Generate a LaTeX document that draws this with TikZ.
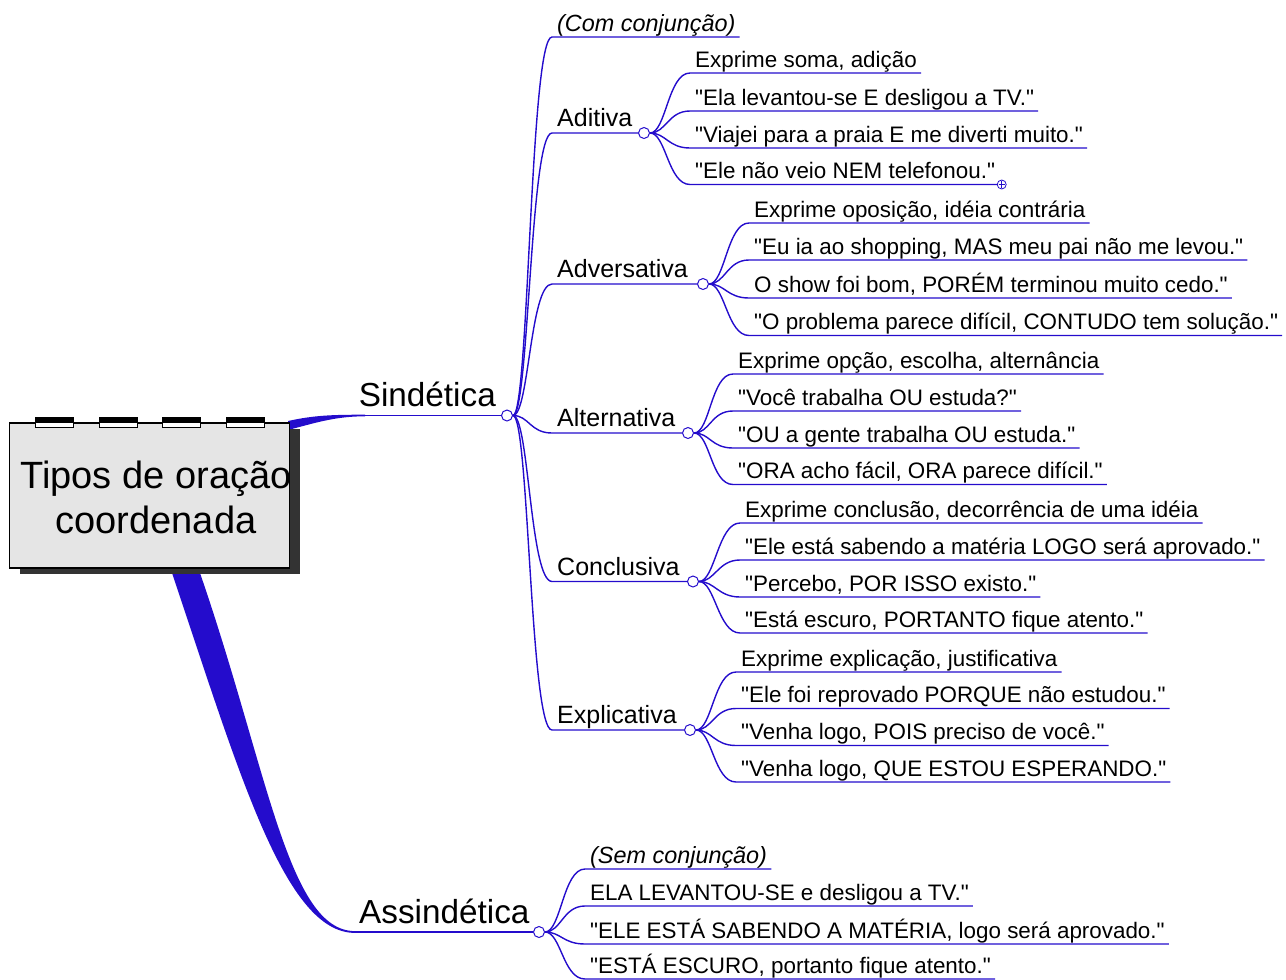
\documentclass[tikz,border=0pt]{standalone}
\usepackage{fontspec}
\setmainfont{Liberation Sans}[Ligatures=TeXOff]
\usetikzlibrary{calc,shadows}

\definecolor{mmblue}{RGB}{36,12,204}
\definecolor{boxgray}{RGB}{229,229,229}
\definecolor{shadowgray}{RGB}{51,51,51}

\tikzset{
  conn/.style={draw=mmblue, line width=1.4pt},
  knob/.style={circle, draw=mmblue, fill=white, line width=1pt, minimum size=11pt, inner sep=0pt},
  plusknob/.style={circle, draw=mmblue, fill=white, line width=0.8pt, minimum size=9pt, inner sep=0pt},
  leaftext/.style={anchor=base west, inner sep=0pt, font=\fontsize{22.4}{26}\selectfont},
  notetext/.style={anchor=base west, inner sep=0pt, font=\fontsize{23.4}{28}\selectfont\itshape},
  midtext/.style={anchor=base west, inner sep=0pt, font=\fontsize{25}{30}\selectfont},
  toptext/.style={inner sep=0pt, font=\fontsize{33.3}{40}\selectfont},
  rootbox/.style={draw=black, line width=1.5pt, fill=boxgray, minimum width=280pt, minimum height=145pt,
    drop shadow={opacity=1, fill=shadowgray, shadow xshift=10pt, shadow yshift=-6pt}},
  titletext/.style={inner sep=0pt, align=center, font=\fontsize{38}{45}\selectfont},
}

% leaf: parent knob, name, underline start x, underline y, text, text style
\newcommand{\mmleaf}[6][leaftext]{%
  \coordinate (#3s) at (#4,#5);
  \node[#1] (#3) at (#4+5,#5-6) {#6};
  \draw[conn] (#2) .. controls +(22,0) and +(-22,0) .. (#3s) -- ([shift={(4,6)}]#3.base east);
}

\begin{document}
\begin{tikzpicture}[x=1pt,y=-1pt]
\useasboundingbox (0,0) rectangle (1286,980);

% thick tapered trunk down to Assindética
\fill[mmblue] (169,565) -- (172,573) .. controls (240,775) and (285,932.9) .. (355,932.9)
  -- (355,931.1) .. controls (288,931.1) and (268,770) .. (200,573) -- (203,565) -- cycle;
% tapered trunk across to Sindética
\fill[mmblue] (288,421) .. controls (315,415) and (335,414.7) .. (365,414.7)
  -- (365,416.3) .. controls (335,416.3) and (315,423) .. (288,430) -- cycle;

% central topic
\node[rootbox] (root) at (149.5,495.5) {};
\node[titletext] (title) at (156,497) {Tipos de oração\\coordenada};
\foreach \tx in {35,99,162,226} {
  \draw[fill=white, line width=0.8pt] (\tx,417) rectangle +(38,10);
  \fill (\tx,417) rectangle +(38,5.5);
}

% main branches
\node[knob] (S) at (507,415.5) {};
\node[knob] (N) at (539,932) {};
\coordinate (sinEnd) at (365,415.5);
\coordinate (assEnd) at (355,932);
\node[toptext, anchor=base east] (sind) at (496,406.5) {Sindética};
\node[toptext, anchor=base west] (assind) at (359,923) {Assindética};
\draw[conn, line width=1.6pt] (sinEnd) -- (S);
\draw[conn, line width=1.6pt] (assEnd) -- (N);

% second level under Sindética
\node[knob] (A) at (644,133) {};
\node[knob] (D) at (703,284) {};
\node[knob] (L) at (688,433) {};
\node[knob] (C) at (693,581.5) {};
\node[knob] (E) at (690,730) {};

\coordinate (coms) at (552,37);
\node[notetext] (com) at (557,31) {(Com conjunção)};
\draw[conn] (S) .. controls +(22,0) and +(-22,0) .. (coms) -- ([shift={(4,6)}]com.base east);

\coordinate (adits) at (552,133);
\node[midtext] (adit) at (557,126.5) {Aditiva};
\draw[conn] (S) .. controls +(22,0) and +(-22,0) .. (adits) -- (A);

\coordinate (advs) at (552,284);
\node[midtext] (adv) at (557,277.5) {Adversativa};
\draw[conn] (S) .. controls +(22,0) and +(-22,0) .. (advs) -- (D);

\coordinate (alts) at (552,433);
\node[midtext] (alt) at (557,426.5) {Alternativa};
\draw[conn] (S) .. controls +(22,0) and +(-22,0) .. (alts) -- (L);

\coordinate (concs) at (552,581.5);
\node[midtext] (conc) at (557,575) {Conclusiva};
\draw[conn] (S) .. controls +(22,0) and +(-22,0) .. (concs) -- (C);

\coordinate (expls) at (552,730);
\node[midtext] (expl) at (557,723.5) {Explicativa};
\draw[conn] (S) .. controls +(22,0) and +(-22,0) .. (expls) -- (E);

% Aditiva
\mmleaf{A}{a1}{690}{73}{Exprime soma, adição}
\mmleaf{A}{a2}{690}{111}{"Ela levantou-se E desligou a TV."}
\mmleaf{A}{a3}{690}{148}{"Viajei para a praia E me diverti muito."}
\mmleaf{A}{a4}{690}{184.5}{"Ele não veio NEM telefonou."}
\node[plusknob] (aplus) at ([shift={(6.5,6)}]a4.base east) {};
\draw[mmblue, line width=0.8pt, shorten <=1.8pt, shorten >=1.8pt] (aplus.west) -- (aplus.east);
\draw[mmblue, line width=0.8pt, shorten <=1.8pt, shorten >=1.8pt] (aplus.north) -- (aplus.south);

% Adversativa
\mmleaf{D}{d1}{749}{223}{Exprime oposição, idéia contrária}
\mmleaf{D}{d2}{749}{260}{"Eu ia ao shopping, MAS meu pai não me levou."}
\mmleaf{D}{d3}{749}{298}{O show foi bom, PORÉM terminou muito cedo."}
\mmleaf{D}{d4}{749}{335.5}{"O problema parece difícil, CONTUDO tem solução."}

% Alternativa
\mmleaf{L}{l1}{733}{374}{Exprime opção, escolha, alternância}
\mmleaf{L}{l2}{733}{411}{"Você trabalha OU estuda?"}
\mmleaf{L}{l3}{733}{448}{"OU a gente trabalha OU estuda."}
\mmleaf{L}{l4}{733}{484.5}{"ORA acho fácil, ORA parece difícil."}

% Conclusiva
\mmleaf{C}{c1}{740}{523}{Exprime conclusão, decorrência de uma idéia}
\mmleaf{C}{c2}{740}{560}{"Ele está sabendo a matéria LOGO será aprovado."}
\mmleaf{C}{c3}{740}{597}{"Percebo, POR ISSO existo."}
\mmleaf{C}{c4}{740}{633}{"Está escuro, PORTANTO fique atento."}

% Explicativa
\mmleaf{E}{e1}{736}{672}{Exprime explicação, justificativa}
\mmleaf{E}{e2}{736}{708.5}{"Ele foi reprovado PORQUE não estudou."}
\mmleaf{E}{e3}{736}{745.5}{"Venha logo, POIS preciso de você."}
\mmleaf{E}{e4}{736}{782}{"Venha logo, QUE ESTOU ESPERANDO."}

% Assindética
\mmleaf[notetext]{N}{n1}{585}{869}{(Sem conjunção)}
\mmleaf{N}{n2}{585}{906}{ELA LEVANTOU-SE e desligou a TV."}
\mmleaf{N}{n3}{585}{944}{"ELE ESTÁ SABENDO A MATÉRIA, logo será aprovado."}
\mmleaf{N}{n4}{585}{979}{"ESTÁ ESCURO, portanto fique atento."}
\end{tikzpicture}
\end{document}
